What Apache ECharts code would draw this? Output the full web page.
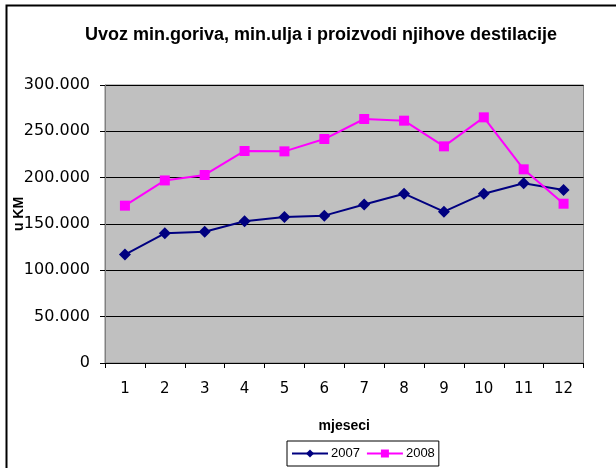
<!DOCTYPE html>
<html><head><meta charset="utf-8">
<script src="https://cdn.jsdelivr.net/npm/echarts@6/dist/echarts.min.js"></script>
<style>html,body{margin:0;padding:0;background:#fff}#c{width:616px;height:468px}</style>
</head><body><div id="c"></div>
<script>
const months = ['1','2','3','4','5','6','7','8','9','10','11','12'];
const s2007 = [117000,140000,141700,153000,157500,159000,171000,182700,163300,182700,194000,186700];
const s2008 = [169800,197000,202900,228800,228400,241700,263300,261500,233800,265100,209000,171900];
const yTicks = [0,50000,100000,150000,200000,250000,300000];

const fmt = v => v === 0 ? '0' : (v/1000).toFixed(0) + '.000';
const chart = echarts.init(document.getElementById('c'));
chart.setOption({
  animation:false,
  backgroundColor:'#fff',
  title:{text:'Uvoz min.goriva, min.ulja i proizvodi njihove destilacije',left:80,top:21,
    textStyle:{fontFamily:'Liberation Sans',fontWeight:'bold',fontSize:18,color:'#000'}},
  graphic:[
    {type:'rect',shape:{x:6.5,y:5.5,width:640,height:500},style:{fill:'none',stroke:'#000',lineWidth:2},z:-1},
    {type:'text',x:19,y:214,rotation:Math.PI/2,style:{text:'u KM',fontFamily:'Liberation Sans',fontWeight:'bold',fontSize:14,fill:'#000',align:'center',verticalAlign:'middle'}}
  ],
  legend:{bottom:2,left:287,itemGap:6,itemWidth:36,itemHeight:10,padding:[6,4,6,4],
    borderColor:'#000',borderWidth:1,
    textStyle:{fontFamily:'Liberation Sans',fontSize:13,color:'#000',padding:[0,0,0,-2]},
    data:[{name:'2007'},{name:'2008'}]},
  grid:{left:105,top:85,right:32.5,bottom:105,show:true,backgroundColor:'#c0c0c0',borderColor:'#808080',borderWidth:1},
  xAxis:{type:'category',data:months,boundaryGap:true,name:'mjeseci',nameLocation:'middle',nameGap:56,
    nameTextStyle:{fontFamily:'Liberation Sans',fontWeight:'bold',fontSize:14,color:'#000'},
    axisLine:{lineStyle:{color:'#000',width:1}},axisTick:{show:true,alignWithLabel:false,length:5,lineStyle:{color:'#000'}},
    axisLabel:{margin:19,fontFamily:'DejaVu Sans',fontSize:15,color:'#000'}},
  yAxis:{type:'value',min:0,max:300000,interval:50000,
    axisLine:{show:true,lineStyle:{color:'#808080',width:1}},axisTick:{show:true,length:5,lineStyle:{color:'#000'}},
    splitLine:{lineStyle:{color:'#000',width:1}},
    axisLabel:{margin:15,fontFamily:'DejaVu Sans',fontSize:16,color:'#000',formatter:fmt}},
  series:[
    {name:'2007',type:'line',data:s2007,symbol:'diamond',symbolSize:12,lineStyle:{color:'#000080',width:2},itemStyle:{color:'#000080'}},
    {name:'2008',type:'line',data:s2008,symbol:'rect',symbolSize:10,lineStyle:{color:'#ff00ff',width:2},itemStyle:{color:'#ff00ff'}}
  ]
});
</script></body></html>
